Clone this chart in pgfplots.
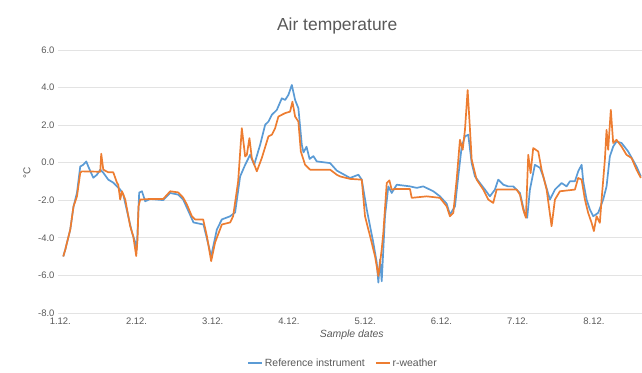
\documentclass[border=0pt]{standalone}
\usepackage{fontspec}
\setmainfont{Liberation Sans}
\usepackage{pgfplots}
\pgfplotsset{compat=1.18}
\definecolor{refblue}{HTML}{5B9BD5}
\definecolor{rworange}{HTML}{ED7D31}
\definecolor{txtgray}{HTML}{595959}
\definecolor{gridgray}{HTML}{E3E3E3}
\begin{document}
\begin{tikzpicture}
\path[use as bounding box] (-58bp,-60bp) rectangle (584bp,313bp);
\begin{axis}[
  scale only axis, width=584bp, height=263bp,
  xmin=-0.03, xmax=7.63, ymin=-8, ymax=6,
  axis line style={draw=none},
  ytick={-8,-6,...,6},
  yticklabels={-8.0,-6.0,-4.0,-2.0,0.0,2.0,4.0,6.0},
  xtick={0,1,2,3,4,5,6,7},
  xticklabels={1.12.,2.12.,3.12.,4.12.,5.12.,6.12.,7.12.,8.12.},
  major tick length=0pt,
  ymajorgrids, grid style={gridgray, line width=0.8bp},
  tick label style={font=\fontsize{9.5}{11}\selectfont, text=txtgray},
  xticklabel style={yshift=-1bp},
  title={Air temperature},
  title style={font=\fontsize{17.5}{20}\selectfont, text=txtgray, at={(axis description cs:0.478,1.068)}, anchor=center},
  xlabel={Sample dates},
  xlabel style={font=\itshape\fontsize{10.5}{12}\selectfont, text=txtgray, at={(axis description cs:0.503,-0.084)}, anchor=center},
  ylabel={°C},
  ylabel style={font=\fontsize{10}{12}\selectfont, text=txtgray, at={(axis description cs:-0.053,0.532)}, anchor=center},
  legend style={at={(axis description cs:0.488,-0.19)}, anchor=center, draw=none, fill=none, legend columns=2, font=\fontsize{10.5}{12}\selectfont, text=txtgray, /tikz/every even column/.append style={column sep=8bp}},
  legend image code/.code={\draw[#1] (0bp,0bp) -- (14bp,0bp);},
  every axis plot/.append style={line width=1.7bp, line join=round},
  clip=false
]
\addplot[refblue] coordinates {
(0.039,-4.99) (0.066,-4.62) (0.131,-3.55) (0.174,-2.32) (0.219,-1.59) (0.262,-0.20)
(0.301,-0.11) (0.341,0.07) (0.367,-0.20) (0.433,-0.80) (0.481,-0.64) (0.524,-0.37)
(0.564,-0.53) (0.629,-0.90) (0.695,-1.06) (0.786,-1.43) (0.826,-1.70) (0.940,-3.71)
(0.983,-4.24) (1.003,-4.62) (1.035,-1.59) (1.071,-1.52) (1.114,-2.05) (1.180,-1.93)
(1.350,-1.99) (1.442,-1.61) (1.547,-1.70) (1.612,-1.96) (1.747,-3.18) (1.878,-3.29)
(1.979,-4.97) (2.054,-3.55) (2.119,-3.02) (2.228,-2.85) (2.293,-2.65) (2.359,-0.73)
(2.425,-0.11) (2.490,0.42) (2.543,-0.11) (2.621,0.95) (2.687,2.02) (2.730,2.19)
(2.775,2.55) (2.840,2.81) (2.906,3.43) (2.949,3.34) (2.992,3.61) (3.037,4.14)
(3.080,3.34) (3.123,2.90) (3.168,0.95) (3.190,0.55) (3.230,0.85) (3.270,0.20)
(3.320,0.35) (3.364,0.07) (3.539,-0.02) (3.627,-0.42) (3.801,-0.81) (3.910,-0.64) (3.954,-0.90)
(4.020,-2.49) (4.106,-4.26) (4.151,-5.32) (4.172,-6.38) (4.194,-5.15) (4.216,-6.31)
(4.259,-2.85) (4.303,-1.26) (4.347,-1.61) (4.413,-1.17) (4.587,-1.26) (4.675,-1.34)
(4.761,-1.26) (4.893,-1.52) (4.980,-1.79) (5.068,-2.18) (5.111,-2.76) (5.177,-2.32)
(5.220,-0.73) (5.265,0.86) (5.308,1.40) (5.351,1.49) (5.396,-0.02) (5.439,-0.73)
(5.504,-1.08) (5.570,-1.43) (5.635,-1.79) (5.701,-1.43) (5.744,-0.90) (5.810,-1.17)
(5.875,-1.26) (5.941,-1.26) (6.029,-1.61) (6.094,-2.76) (6.124,-2.93) (6.160,-1.43)
(6.225,-0.11) (6.291,-0.27) (6.334,-0.73) (6.422,-1.96) (6.488,-1.43) (6.575,-1.08)
(6.641,-1.26) (6.684,-0.99) (6.750,-0.99) (6.793,-0.46) (6.838,-0.11) (6.859,-0.99)
(6.903,-1.96) (6.946,-2.49) (6.990,-2.85) (7.055,-2.67) (7.121,-1.96) (7.165,-1.26)
(7.208,0.33) (7.252,0.86) (7.296,1.13) (7.362,1.05) (7.448,0.60) (7.558,-0.20)
(7.615,-0.73)
};
\addlegendentry{Reference instrument}
\addplot[rworange] coordinates {
(0.039,-4.99) (0.066,-4.62) (0.131,-3.55) (0.174,-2.32) (0.219,-1.79) (0.262,-0.53)
(0.284,-0.46) (0.524,-0.48) (0.537,0.48) (0.564,-0.37) (0.629,-0.51) (0.695,-0.51)
(0.743,-1.06) (0.760,-1.17) (0.786,-1.96) (0.809,-1.52) (0.852,-1.96) (0.917,-3.38)
(0.957,-3.91) (0.996,-4.97) (1.013,-4.08) (1.026,-2.32) (1.048,-1.96) (1.180,-1.93)
(1.350,-1.93) (1.442,-1.52) (1.547,-1.58) (1.612,-1.86) (1.661,-2.23) (1.726,-2.85)
(1.769,-3.02) (1.874,-3.02) (1.923,-3.91) (1.979,-5.24) (2.031,-4.24) (2.119,-3.29)
(2.228,-3.18) (2.267,-2.85) (2.333,-0.99) (2.381,1.84) (2.425,0.33) (2.447,0.42)
(2.481,1.31) (2.512,0.25) (2.578,-0.46) (2.643,0.25) (2.730,1.40) (2.775,1.49)
(2.818,1.84) (2.861,2.46) (2.949,2.64) (3.014,2.72) (3.045,3.25) (3.080,2.46)
(3.123,2.19) (3.155,0.60) (3.211,-0.11) (3.277,-0.37) (3.539,-0.37) (3.627,-0.64)
(3.670,-0.73) (3.801,-0.86) (3.954,-0.90) (3.997,-2.85) (4.063,-3.91) (4.128,-4.97)
(4.172,-6.03) (4.216,-4.62) (4.237,-3.73) (4.282,-1.08) (4.316,-0.94) (4.347,-1.43)
(4.391,-1.40) (4.587,-1.40) (4.609,-1.87) (4.806,-1.79) (4.980,-1.87) (5.068,-2.32)
(5.111,-2.85) (5.155,-2.67) (5.199,-0.90) (5.242,1.22) (5.278,0.69) (5.308,1.75)
(5.343,3.87) (5.374,1.75) (5.396,0.16) (5.461,-0.90) (5.548,-1.43) (5.613,-1.96)
(5.679,-2.14) (5.723,-1.43) (5.986,-1.43) (6.029,-1.70) (6.072,-2.49) (6.107,-2.93)
(6.138,0.42) (6.169,-0.55) (6.203,0.78) (6.269,0.60) (6.313,-0.37) (6.379,-1.43)
(6.444,-3.38) (6.488,-1.96) (6.553,-1.52) (6.750,-1.43) (6.793,-0.81) (6.838,-0.90)
(6.881,-1.96) (6.924,-2.67) (6.969,-3.20) (6.999,-3.64) (7.034,-2.85) (7.077,-3.20)
(7.100,-1.96) (7.143,0.16) (7.165,1.75) (7.186,0.69) (7.221,2.81) (7.252,1.05)
(7.296,1.22) (7.362,0.86) (7.427,0.42) (7.493,0.25) (7.558,-0.37) (7.615,-0.81)
};
\addlegendentry{r-weather}
\end{axis}
\end{tikzpicture}
\end{document}
